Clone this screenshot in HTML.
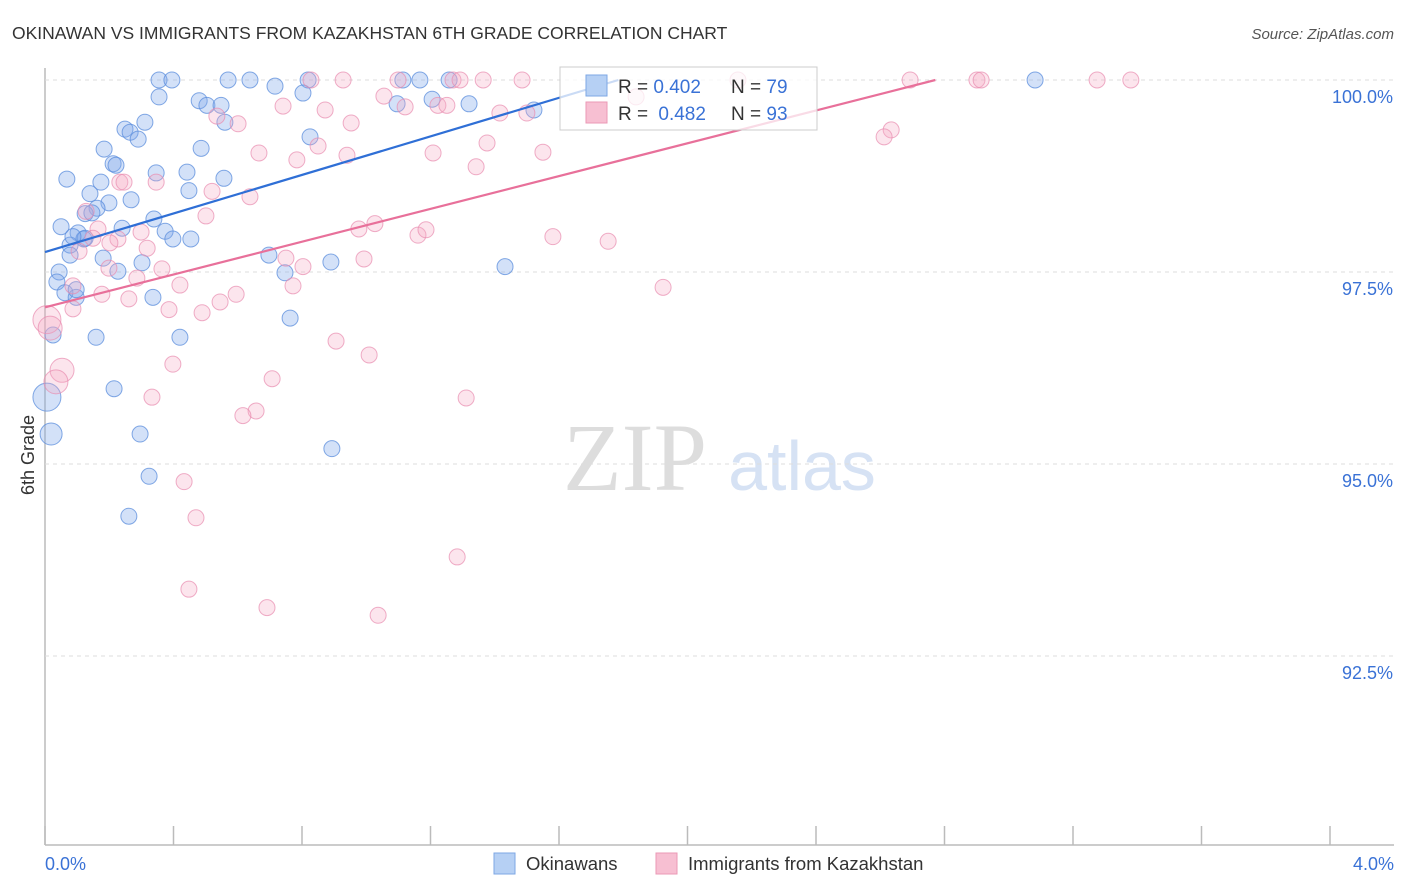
<!DOCTYPE html>
<html><head><meta charset="utf-8">
<style>
body{margin:0;background:#fff;font-family:"Liberation Sans",sans-serif;}
#wrap{position:relative;width:1406px;height:892px;overflow:hidden;}
</style></head>
<body>
<div id="wrap">
<svg id="svg" width="1406" height="892" xmlns="http://www.w3.org/2000/svg">
<text x="12" y="39" font-size="17.5" fill="#333">OKINAWAN VS IMMIGRANTS FROM KAZAKHSTAN 6TH GRADE CORRELATION CHART</text>
<text x="1394" y="39" font-size="15" fill="#555" font-style="italic" text-anchor="end">Source: ZipAtlas.com</text>
<text x="635" y="490" font-size="96" fill="#ddd" font-family="Liberation Serif,serif" text-anchor="middle">ZIP</text>
<text x="802" y="490" font-size="70" fill="#d6e2f4" text-anchor="middle">atlas</text>
<text transform="translate(34,455) rotate(-90)" font-size="18" fill="#333" text-anchor="middle">6th Grade</text>
<g id="grid"></g>
<g id="pts"></g>
<g id="lines"></g>
<g>
<rect x="560" y="67" width="257" height="63" fill="rgba(255,255,255,0.75)" stroke="#ccc"/>
<rect x="586" y="75" width="21" height="21" fill="#b6d0f4" stroke="#7ea7e4"/>
<text x="618" y="93" font-size="19" fill="#333">R = <tspan fill="#3a72d6">0.402</tspan></text>
<text x="731" y="93" font-size="19" fill="#333">N = <tspan fill="#3a72d6">79</tspan></text>
<rect x="586" y="102" width="21" height="21" fill="#f7bfd2" stroke="#eb98b6"/>
<text x="618" y="120" font-size="19" fill="#333">R = <tspan fill="#3a72d6" dx="5">0.482</tspan></text>
<text x="731" y="120" font-size="19" fill="#333">N = <tspan fill="#3a72d6">93</tspan></text>
</g>
<g>
<rect x="494" y="853" width="21" height="21" fill="#b6d0f4" stroke="#7ea7e4"/>
<text x="526" y="870" font-size="18.5" fill="#333">Okinawans</text>
<rect x="656" y="853" width="21" height="21" fill="#f7bfd2" stroke="#eb98b6"/>
<text x="688" y="870" font-size="18.5" fill="#333">Immigrants from Kazakhstan</text>
</g>
</svg>
</div>
<script>
const xTicks=[0,0.4,0.8,1.2,1.6,2.0,2.4,2.8,3.2,3.6,4.0];
const xTickLabels=["0.0%","4.0%"];
const yTicks=[100,97.5,95,92.5];
const yTickLabels=["100.0%","97.5%","95.0%","92.5%"];
const blueX=[0.355,0.395,0.570,0.638,0.819,1.114,1.167,1.258,3.082,0.716,0.803,0.355,0.480,0.504,0.548,1.096,1.205,1.320,1.522,0.311,0.560,0.249,0.265,0.290,0.184,0.486,0.825,0.068,0.212,0.221,0.346,0.442,0.557,0.174,0.140,0.448,0.268,0.199,0.162,0.125,0.146,0.339,0.050,0.240,0.374,0.103,0.121,0.078,0.398,0.454,0.078,0.181,0.697,0.302,0.890,1.432,0.044,0.227,0.747,0.037,0.062,0.097,0.336,0.763,0.025,0.159,0.420,0.215,0.006,0.019,0.296,0.893,0.324,0.261,0.097,0.125,0.087];
const blueY=[100,100,100,100,100,100,100,100,100,99.92,99.83,99.78,99.73,99.67,99.67,99.69,99.75,99.69,99.61,99.45,99.45,99.36,99.32,99.23,99.10,99.11,99.26,98.71,98.91,98.89,98.79,98.80,98.72,98.67,98.52,98.56,98.44,98.40,98.33,98.26,98.27,98.19,98.09,98.07,98.03,98.01,97.93,97.85,97.93,97.93,97.72,97.68,97.72,97.62,97.63,97.57,97.50,97.51,97.49,97.37,97.23,97.17,97.17,96.90,96.68,96.65,96.65,95.98,95.87,95.39,95.39,95.20,94.84,94.32,97.27,97.94,97.96];
const blueBig=[68,69];
const pinkX=[0.828,0.928,1.099,1.270,1.292,1.364,1.485,2.157,2.693,2.901,2.914,3.275,3.380,1.840,1.055,0.741,0.872,1.121,1.223,1.251,1.416,1.500,0.535,0.601,0.953,2.634,2.612,0.850,1.376,0.666,0.940,1.208,1.550,0.784,1.342,0.233,0.246,0.346,0.520,0.638,0.128,0.501,0.165,0.299,0.977,1.027,1.161,1.186,1.581,1.753,0.149,0.318,0.106,0.199,0.364,0.750,0.993,0.803,0.286,0.420,0.772,1.924,0.177,0.261,0.595,0.545,0.386,0.489,0.087,0.906,1.009,0.398,0.707,0.333,1.311,0.657,0.616,0.053,0.034,0.006,0.016,0.433,0.470,1.283,0.448,0.691,1.037,0.227,0.202,0.087];
const pinkY=[100,100,100,100,100,100,100,100,100,100,100,100,100,99.78,99.79,99.66,99.61,99.65,99.67,99.67,99.57,99.57,99.53,99.43,99.44,99.35,99.26,99.14,99.18,99.05,99.02,99.05,99.06,98.96,98.87,98.67,98.67,98.67,98.55,98.48,98.29,98.23,98.06,98.02,98.06,98.13,97.98,98.05,97.96,97.90,97.94,97.81,97.77,97.55,97.54,97.68,97.67,97.57,97.42,97.33,97.32,97.30,97.21,97.15,97.21,97.11,97.01,96.97,97.32,96.60,96.42,96.30,96.11,95.87,95.86,95.69,95.63,96.22,96.07,96.88,96.77,94.77,94.30,93.79,93.37,93.13,93.03,97.93,97.88,97.02];
const pinkBig=[77,78,79,80];
const trendIntercept=[97.76,97.04];
const trendSlope=[1.255,1.068];

const X0=45,X1=1330,Y100=80,PXPER=192/2.5;
const sx=v=>X0+(v/4)*(X1-X0);
const sy=v=>Y100+(100-v)*PXPER;
const NS="http://www.w3.org/2000/svg";
function mk(tag,attrs,parent){const e=document.createElementNS(NS,tag);for(const k in attrs)e.setAttribute(k,attrs[k]);parent.appendChild(e);return e;}
const grid=document.getElementById('grid');
const ax=mk('line',{x1:X0,y1:68,x2:X0,y2:845,stroke:'#bbb','stroke-width':1.5},grid);


const bx=mk('line',{x1:X0,y1:845,x2:1394,y2:845,stroke:'#bbb','stroke-width':1.5},grid);


yTicks.forEach((t,i)=>{
  const g=mk('line',{x1:X0,y1:sy(t),x2:1394,y2:sy(t),stroke:'#ddd','stroke-dasharray':'4,4'},grid);
  
  
  const tx=mk('text',{x:1393,y:sy(t)+23,'font-size':18,fill:'#3a72d6','text-anchor':'end'},grid);
  tx.textContent=yTickLabels[i];
  
  
});
xTicks.forEach(t=>{
  const l=mk('line',{x1:sx(t),y1:826,x2:sx(t),y2:845,stroke:'#bbb','stroke-width':1.5},grid);
  
  
});
[[0,'start',45],[4,'end',1394]].forEach((d,i)=>{
  const tx=mk('text',{x:d[2],y:870,'font-size':18,fill:'#3a72d6','text-anchor':d[1]},grid);
  tx.textContent=xTickLabels[i];
  
  
});
const pts=document.getElementById('pts');
blueX.forEach((x,i)=>{
  const r=blueBig.includes(i)?(i==68?14:11):8;
  const c=mk('circle',{cx:sx(x),cy:sy(blueY[i]),r:r,fill:'rgba(130,170,235,0.35)',stroke:'rgba(90,140,220,0.75)','stroke-width':1},pts);
  
  
});
pinkX.forEach((x,i)=>{
  const r=pinkBig.includes(i)?(i==79?14:12):8;
  const c=mk('circle',{cx:sx(x),cy:sy(pinkY[i]),r:r,fill:'rgba(245,170,195,0.3)',stroke:'rgba(232,140,175,0.7)','stroke-width':1},pts);
  
  
});
const lines=document.getElementById('lines');
const cols=['#2f6fd6','#e8709a'];
const names=['okinawan-trendline','kazakhstan-trendline'];
trendIntercept.forEach((b,i)=>{
  const xe=(100-b)/trendSlope[i];
  const l=mk('line',{x1:sx(0),y1:sy(b),x2:sx(xe),y2:sy(100),stroke:cols[i],'stroke-width':2.2},lines);
  
  
});
</script>
</body></html>
